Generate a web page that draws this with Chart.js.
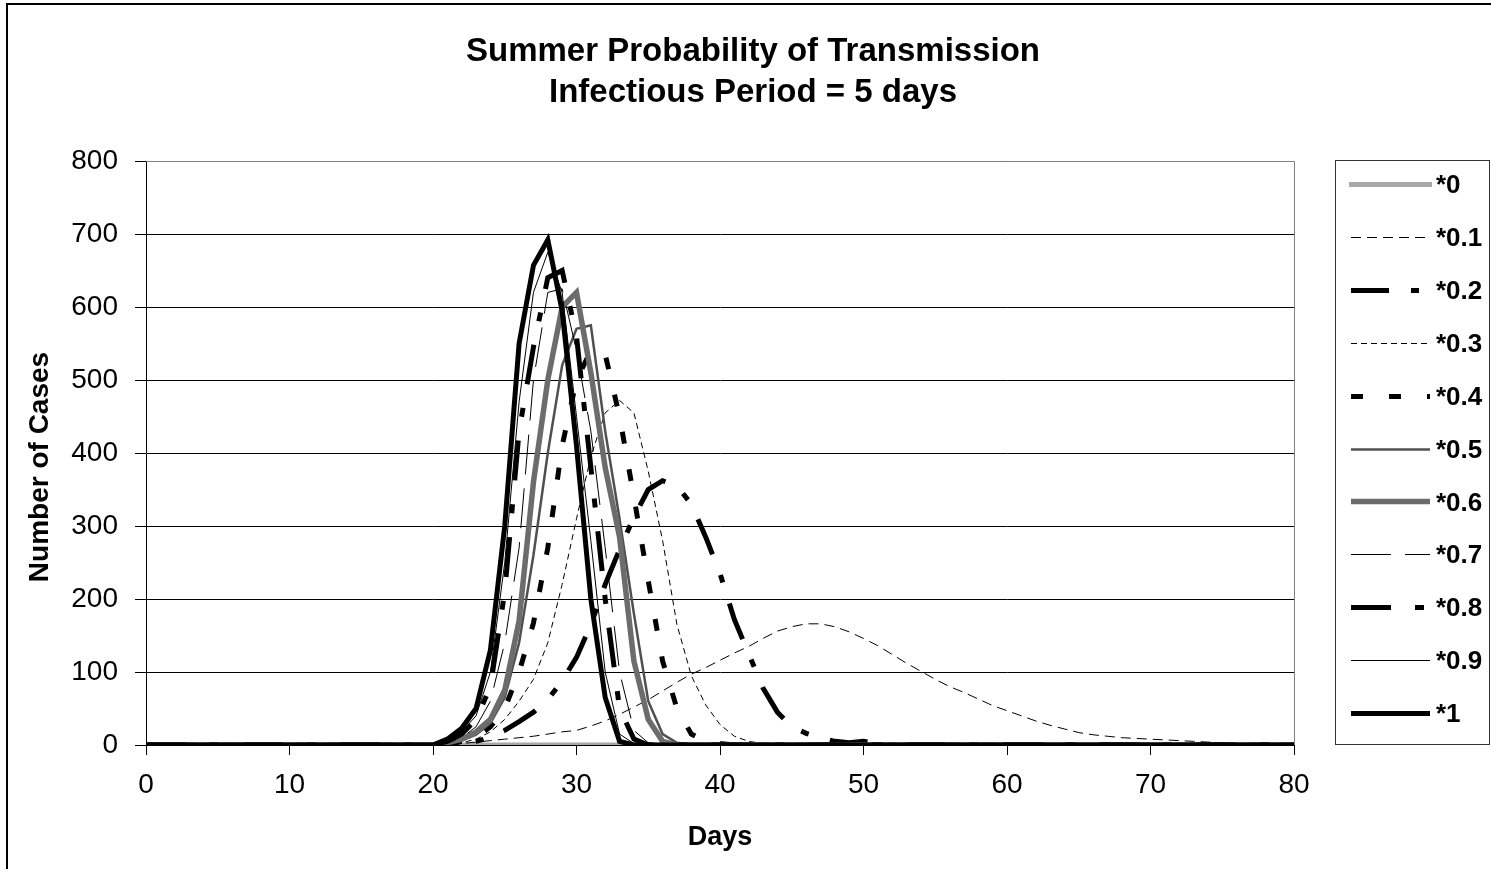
<!DOCTYPE html>
<html><head><meta charset="utf-8">
<script src="https://cdn.jsdelivr.net/npm/chart.js@4/dist/chart.umd.min.js"></script>
<style>html,body{margin:0;padding:0;background:#fff;overflow:hidden}canvas{display:block}</style>
</head><body>
<canvas id="c" width="1506" height="869"></canvas>
<script>
const titleLines = ['Summer Probability of Transmission', 'Infectious Period = 5 days'];
const xTitle = 'Days';
const yTitle = 'Number of Cases';
const seriesNames = ['*0', '*0.1', '*0.2', '*0.3', '*0.4', '*0.5', '*0.6', '*0.7', '*0.8', '*0.9', '*1'];
const days = [0,1,2,3,4,5,6,7,8,9,10,11,12,13,14,15,16,17,18,19,20,21,22,23,24,25,26,27,28,29,30,31,32,33,34,35,36,37,38,39,40,41,42,43,44,45,46,47,48,49,50,51,52,53,54,55,56,57,58,59,60,61,62,63,64,65,66,67,68,69,70,71,72,73,74,75,76,77,78,79,80];
const xTicks = [0,10,20,30,40,50,60,70,80];
const yTicks = [0,100,200,300,400,500,600,700,800];

const p00 = [0,0,0,0,0,0,0,0,0,0,0,0,0,0,0,0,0,0,0,0,0,0,0,0,0,0,0,0,0,0,0,0,0,0,0,0,0,0,0,0,0,0,0,0,0,0,0,0,0,0,0,0,0,0,0,0,0,0,0,0,0,0,0,0,0,0,0,0,0,0,0,0,0,0,0,0,0,0,0,0,0];
const p01 = [0,0,0,0,0,0,0,0,0,0,0,0,0,0,0,0,0,0,0,0,0,1,2,4,6,8,10,12,15,18,20,26,33,42,52,62,74,86,97,106,116,126,135,146,156,162,166,166,162,155,146,136,124,112,101,90,80,72,63,54,47,40,33,27,22,17,14,12,10,9,8,7,6,5,4,3,2,1,1,0,0];
const p02 = [0,0,0,0,0,0,0,0,0,0,0,0,0,0,0,0,0,0,0,0,0,0,2,5,10,20,32,45,62,88,120,165,220,268,312,350,362,355,330,285,235,172,125,78,45,25,16,10,5,3,5,2,0,0,0,0,0,0,0,0,0,0,0,0,0,0,0,0,0,0,0,0,0,0,0,0,0,0,0,0,0];
const p03 = [0,0,0,0,0,0,0,0,0,0,0,0,0,0,0,0,0,0,0,0,0,0,3,8,18,35,60,90,140,220,310,395,455,472,455,375,280,165,95,55,28,12,5,2,0,0,0,0,0,0,0,0,0,0,0,0,0,0,0,0,0,0,0,0,0,0,0,0,0,0,0,0,0,0,0,0,0,0,0,0,0];
const p04 = [0,0,0,0,0,0,0,0,0,0,0,0,0,0,0,0,0,0,0,0,0,0,5,10,25,50,100,167,270,410,500,540,535,450,340,225,115,50,15,5,2,0,0,0,0,0,0,0,0,0,0,0,0,0,0,0,0,0,0,0,0,0,0,0,0,0,0,0,0,0,0,0,0,0,0,0,0,0,0,0,0];
const p05 = [0,0,0,0,0,0,0,0,0,0,0,0,0,0,0,0,0,0,0,0,0,2,6,14,30,65,140,260,400,520,570,575,430,310,180,60,15,3,0,0,0,0,0,0,0,0,0,0,0,0,0,0,0,0,0,0,0,0,0,0,0,0,0,0,0,0,0,0,0,0,0,0,0,0,0,0,0,0,0,0,0];
const p06 = [0,0,0,0,0,0,0,0,0,0,0,0,0,0,0,0,0,0,0,0,0,3,8,18,35,75,170,360,500,600,620,510,380,285,115,35,5,0,0,0,0,0,0,0,0,0,0,0,0,0,0,0,0,0,0,0,0,0,0,0,0,0,0,0,0,0,0,0,0,0,0,0,0,0,0,0,0,0,0,0,0];
const p07 = [0,0,0,0,0,0,0,0,0,0,0,0,0,0,0,0,0,0,0,0,0,3,10,25,60,140,270,500,620,625,540,430,270,100,20,3,0,0,0,0,0,0,0,0,0,0,0,0,0,0,0,0,0,0,0,0,0,0,0,0,0,0,0,0,0,0,0,0,0,0,0,0,0,0,0,0,0,0,0,0,0];
const p08 = [0,0,0,0,0,0,0,0,0,0,0,0,0,0,0,0,0,0,0,0,0,5,15,35,80,210,430,545,640,650,560,380,200,50,8,0,0,0,0,0,0,0,0,0,0,0,0,0,0,0,0,0,0,0,0,0,0,0,0,0,0,0,0,0,0,0,0,0,0,0,0,0,0,0,0,0,0,0,0,0,0];
const p09 = [0,0,0,0,0,0,0,0,0,0,0,0,0,0,0,0,0,0,0,0,0,6,18,40,100,250,470,620,675,620,450,280,100,15,2,0,0,0,0,0,0,0,0,0,0,0,0,0,0,0,0,0,0,0,0,0,0,0,0,0,0,0,0,0,0,0,0,0,0,0,0,0,0,0,0,0,0,0,0,0,0];
const p10 = [0,0,0,0,0,0,0,0,0,0,0,0,0,0,0,0,0,0,0,0,0,8,23,50,130,300,550,657,692,595,410,200,65,5,0,0,0,0,0,0,0,0,0,0,0,0,0,0,0,0,0,0,0,0,0,0,0,0,0,0,0,0,0,0,0,0,0,0,0,0,0,0,0,0,0,0,0,0,0,0,0];

const seriesValues = [p00, p01, p02, p03, p04, p05, p06, p07, p08, p09, p10];
const styles = [
  {c:'#a8a8a8', w:5, d:[]},
  {c:'#000000', w:1, d:[10,6]},
  {c:'#000000', w:5, d:[38,22,8,22]},
  {c:'#000000', w:1, d:[6,4]},
  {c:'#000000', w:5, d:[12,26]},
  {c:'#505050', w:2.5, d:[]},
  {c:'#6c6c6c', w:5.5, d:[]},
  {c:'#000000', w:1, d:[40,14]},
  {c:'#000000', w:5, d:[40,24,9,24]},
  {c:'#000000', w:1, d:[]},
  {c:'#000000', w:5, d:[]}
];
const FONT = 'Arial, "Liberation Sans", sans-serif';

const datasets = seriesNames.map((name, i) => ({
  label: name,
  data: days.map((d, k) => ({x: d, y: seriesValues[i][k]})),
  borderColor: styles[i].c,
  backgroundColor: styles[i].c,
  borderWidth: styles[i].w,
  borderDash: styles[i].d,
  pointRadius: 0,
  tension: 0,
  fill: false,
  order: seriesNames.length - i
}));

const decor = {
  id: 'decor',
  beforeDatasetsDraw(chart) {
    const {ctx, chartArea: a} = chart;
    ctx.save();
    ctx.strokeStyle = '#808080';
    ctx.lineWidth = 1;
    ctx.beginPath();
    ctx.moveTo(a.left, a.top + 0.5); ctx.lineTo(a.right + 0.5, a.top + 0.5); ctx.lineTo(a.right + 0.5, a.bottom);
    ctx.stroke();
    ctx.restore();
  },
  afterDraw(chart) {
    const {ctx} = chart;
    ctx.save();
    // outer chart border
    ctx.strokeStyle = '#000';
    ctx.lineWidth = 2;
    ctx.beginPath();
    ctx.moveTo(7, 869); ctx.lineTo(7, 4); ctx.lineTo(1506, 4);
    ctx.stroke();
    // chart title
    ctx.fillStyle = '#000';
    ctx.textAlign = 'center';
    ctx.textBaseline = 'middle';
    ctx.font = 'bold 33px ' + FONT;
    ctx.fillText(titleLines[0], 753, 52);
    ctx.fillText(titleLines[1], 753, 93);
    // y axis title
    ctx.save();
    ctx.translate(40, 467);
    ctx.rotate(-Math.PI / 2);
    ctx.font = 'bold 28px ' + FONT;
    ctx.fillText(yTitle, 0, 0);
    ctx.restore();
    // x axis title
    ctx.font = 'bold 27px ' + FONT;
    ctx.fillText(xTitle, 720, 838);
    // legend box
    const lx = 1335.5, ly = 160.5, lw = 154, lh = 584;
    ctx.lineWidth = 1;
    ctx.strokeStyle = '#333';
    ctx.fillStyle = '#fff';
    ctx.fillRect(lx, ly, lw, lh);
    ctx.strokeRect(lx, ly, lw, lh);
    ctx.font = 'bold 26px ' + FONT;
    ctx.textBaseline = 'middle';
    ctx.textAlign = 'left';
    chart.data.datasets.forEach((ds, i) => {
      const y = 184 + i * 52.9;
      ctx.save();
      ctx.strokeStyle = ds.borderColor;
      ctx.lineWidth = ds.borderWidth;
      ctx.setLineDash(ds.borderDash);
      ctx.beginPath();
      ctx.moveTo(i === 0 ? 1349 : 1351, Math.round(y) + 0.5);
      ctx.lineTo(i === 0 ? 1432 : 1430, Math.round(y) + 0.5);
      ctx.stroke();
      ctx.restore();
      ctx.fillStyle = '#000';
      ctx.fillText(ds.label, 1436, y + 2);
    });
    ctx.restore();
  }
};

new Chart(document.getElementById('c'), {
  type: 'line',
  data: {datasets},
  plugins: [decor],
  options: {
    responsive: false,
    animation: false,
    layout: {padding: {left: 0, right: 212, top: 161, bottom: 0}},
    plugins: {
      legend: {display: false},
      tooltip: {enabled: false},
      title: {display: false}
    },
    scales: {
      x: {
        type: 'linear',
        min: 0, max: 80,
        afterFit(s) { s.height = 124; },
        afterBuildTicks(s) { s.ticks = xTicks.map(v => ({value: v})); },
        grid: {display: true, drawOnChartArea: false, drawTicks: true, tickLength: 10, color: '#000', lineWidth: 1},
        border: {display: true, color: '#000', width: 1},
        ticks: {color: '#000', font: {family: FONT, size: 28}, padding: 13, maxRotation: 0},
        title: {display: false}
      },
      y: {
        type: 'linear',
        min: 0, max: 800,
        afterFit(s) { s.width = 146; },
        afterBuildTicks(s) { s.ticks = yTicks.map(v => ({value: v})); },
        grid: {display: true, drawOnChartArea: true, drawTicks: true, tickLength: 11, color: '#000', lineWidth: 1},
        border: {display: true, color: '#000', width: 1},
        ticks: {color: '#000', font: {family: FONT, size: 28}, padding: 17},
        title: {display: false}
      }
    }
  }
});
</script>
</body></html>
